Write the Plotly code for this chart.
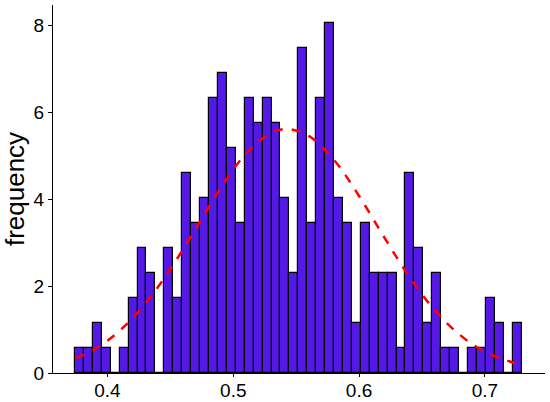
import plotly.graph_objects as go
import numpy as np

# histogram bins (regular width), heights (density)
bin_left = 0.3742
bin_width = 0.0071
bar_heights = [0.57, 0.57, 1.15, 0.57, 0.0, 0.57, 1.72, 2.87, 2.29, 0.0,
               2.87, 1.72, 4.60, 3.44, 4.02, 6.32, 6.89, 5.17, 3.44, 6.32,
               5.75, 6.32, 5.75, 4.02, 2.29, 7.47, 3.44, 6.32, 8.04, 4.02,
               3.44, 1.15, 3.44, 2.29, 2.29, 2.29, 0.57, 4.60, 2.87, 1.15,
               2.29, 0.57, 0.57, 0.0, 0.57, 0.57, 1.72, 1.15, 0.0, 1.15]

# fitted normal curve
curve_x = [0.375, 0.39, 0.41, 0.43, 0.45, 0.47, 0.49, 0.51, 0.53, 0.543,
           0.56, 0.58, 0.60, 0.62, 0.64, 0.66, 0.68, 0.70, 0.729]
curve_y = [0.34, 0.55, 0.98, 1.59, 2.39, 3.31, 4.25, 5.04, 5.52, 5.61,
           5.45, 4.90, 4.07, 3.12, 2.21, 1.45, 0.88, 0.49, 0.18]

x_ticks = [0.4, 0.5, 0.6, 0.7]
y_ticks = [0, 2, 4, 6, 8]

bin_centers = bin_left + bin_width * (np.arange(len(bar_heights)) + 0.5)

fig = go.Figure()

fig.add_trace(go.Bar(
    x=bin_centers,
    y=bar_heights,
    width=bin_width,
    marker=dict(color='rgb(85,25,230)', line=dict(color='black', width=1.2)),
    showlegend=False
))

fig.add_trace(go.Scatter(
    x=curve_x,
    y=curve_y,
    mode='lines',
    line=dict(color='red', width=2.5, dash='dash', shape='spline'),
    showlegend=False
))

fig.update_layout(
    width=550,
    height=402,
    margin=dict(l=53, r=5, t=5, b=29),
    plot_bgcolor='white',
    paper_bgcolor='white',
    bargap=0,
    font=dict(family='Liberation Sans, Arial', color='black'),
    xaxis=dict(
        range=[0.3567, 0.7478],
        tickvals=x_ticks,
        ticktext=[str(v) for v in x_ticks],
        automargin=False,
        showgrid=False,
        zeroline=False,
        showline=True,
        linecolor='black',
        linewidth=1,
        ticks='outside',
        ticklen=3,
        tickcolor='black',
        ticklabelstandoff=-3,
        tickfont=dict(size=19)
    ),
    yaxis=dict(
        range=[0, 8.46],
        tickvals=y_ticks,
        automargin=False,
        showgrid=False,
        zeroline=False,
        showline=True,
        linecolor='black',
        linewidth=1,
        ticks='outside',
        ticklen=4,
        tickcolor='black',
        tickfont=dict(size=19),
        title=dict(text='frequency', font=dict(size=26), standoff=5)
    )
)

# drop the browser's default body margin so the figure sits at the page corner
fig.write_html("out.html", config={'displayModeBar': False},
               post_script="document.body.style.margin = '0';")
